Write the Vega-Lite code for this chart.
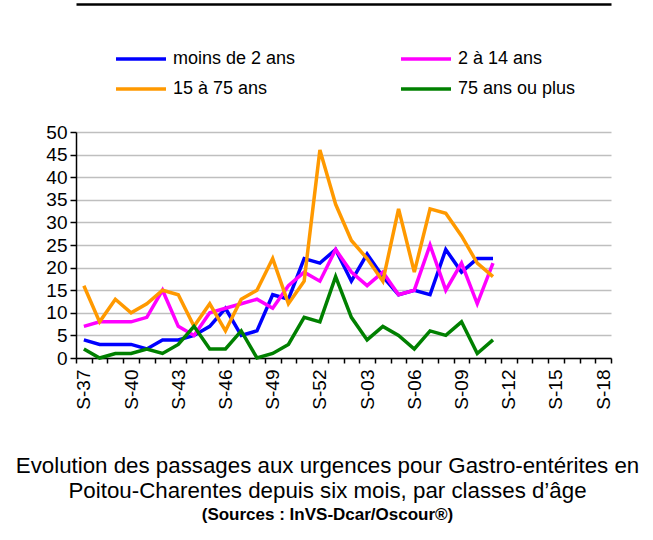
{
  "$schema": "https://vega.github.io/schema/vega-lite/v6.json",
  "width": 535,
  "height": 226,
  "autosize": "none",
  "padding": {"left": 76, "top": 132, "right": 42, "bottom": 182},
  "background": "white",
  "config": {"view": {"stroke": null}, "font": "Liberation Sans"},
  "title": {
    "text": ["Evolution des passages aux urgences pour Gastro-entérites en", "Poitou-Charentes depuis six mois, par classes d’âge"],
    "subtitle": "(Sources : InVS-Dcar/Oscour®)",
    "orient": "bottom",
    "anchor": "middle",
    "dx": -16,
    "offset": 46,
    "font": "Liberation Sans",
    "fontSize": 22.3,
    "fontWeight": "normal",
    "lineHeight": 25,
    "color": "black",
    "subtitleFont": "Liberation Sans",
    "subtitleFontSize": 17,
    "subtitleFontWeight": "bold",
    "subtitleColor": "black",
    "subtitlePadding": 5
  },
  "data": {
    "values": [
      {"week": "S-37", "group": "moins de 2 ans", "value": 4},
      {"week": "S-38", "group": "moins de 2 ans", "value": 3},
      {"week": "S-39", "group": "moins de 2 ans", "value": 3},
      {"week": "S-40", "group": "moins de 2 ans", "value": 3},
      {"week": "S-41", "group": "moins de 2 ans", "value": 2},
      {"week": "S-42", "group": "moins de 2 ans", "value": 4},
      {"week": "S-43", "group": "moins de 2 ans", "value": 4},
      {"week": "S-44", "group": "moins de 2 ans", "value": 5},
      {"week": "S-45", "group": "moins de 2 ans", "value": 7},
      {"week": "S-46", "group": "moins de 2 ans", "value": 11},
      {"week": "S-47", "group": "moins de 2 ans", "value": 5},
      {"week": "S-48", "group": "moins de 2 ans", "value": 6},
      {"week": "S-49", "group": "moins de 2 ans", "value": 14},
      {"week": "S-50", "group": "moins de 2 ans", "value": 13},
      {"week": "S-51", "group": "moins de 2 ans", "value": 22},
      {"week": "S-52", "group": "moins de 2 ans", "value": 21},
      {"week": "S-01", "group": "moins de 2 ans", "value": 24},
      {"week": "S-02", "group": "moins de 2 ans", "value": 17},
      {"week": "S-03", "group": "moins de 2 ans", "value": 23},
      {"week": "S-04", "group": "moins de 2 ans", "value": 18},
      {"week": "S-05", "group": "moins de 2 ans", "value": 14},
      {"week": "S-06", "group": "moins de 2 ans", "value": 15},
      {"week": "S-07", "group": "moins de 2 ans", "value": 14},
      {"week": "S-08", "group": "moins de 2 ans", "value": 24},
      {"week": "S-09", "group": "moins de 2 ans", "value": 19},
      {"week": "S-10", "group": "moins de 2 ans", "value": 22},
      {"week": "S-11", "group": "moins de 2 ans", "value": 22},
      {"week": "S-37", "group": "2 à 14 ans", "value": 7},
      {"week": "S-38", "group": "2 à 14 ans", "value": 8},
      {"week": "S-39", "group": "2 à 14 ans", "value": 8},
      {"week": "S-40", "group": "2 à 14 ans", "value": 8},
      {"week": "S-41", "group": "2 à 14 ans", "value": 9},
      {"week": "S-42", "group": "2 à 14 ans", "value": 15},
      {"week": "S-43", "group": "2 à 14 ans", "value": 7},
      {"week": "S-44", "group": "2 à 14 ans", "value": 5},
      {"week": "S-45", "group": "2 à 14 ans", "value": 10},
      {"week": "S-46", "group": "2 à 14 ans", "value": 11},
      {"week": "S-47", "group": "2 à 14 ans", "value": 12},
      {"week": "S-48", "group": "2 à 14 ans", "value": 13},
      {"week": "S-49", "group": "2 à 14 ans", "value": 11},
      {"week": "S-50", "group": "2 à 14 ans", "value": 16},
      {"week": "S-51", "group": "2 à 14 ans", "value": 19},
      {"week": "S-52", "group": "2 à 14 ans", "value": 17},
      {"week": "S-01", "group": "2 à 14 ans", "value": 24},
      {"week": "S-02", "group": "2 à 14 ans", "value": 19},
      {"week": "S-03", "group": "2 à 14 ans", "value": 16},
      {"week": "S-04", "group": "2 à 14 ans", "value": 19},
      {"week": "S-05", "group": "2 à 14 ans", "value": 14},
      {"week": "S-06", "group": "2 à 14 ans", "value": 15},
      {"week": "S-07", "group": "2 à 14 ans", "value": 25},
      {"week": "S-08", "group": "2 à 14 ans", "value": 15},
      {"week": "S-09", "group": "2 à 14 ans", "value": 21},
      {"week": "S-10", "group": "2 à 14 ans", "value": 12},
      {"week": "S-11", "group": "2 à 14 ans", "value": 21},
      {"week": "S-37", "group": "15 à 75 ans", "value": 16},
      {"week": "S-38", "group": "15 à 75 ans", "value": 8},
      {"week": "S-39", "group": "15 à 75 ans", "value": 13},
      {"week": "S-40", "group": "15 à 75 ans", "value": 10},
      {"week": "S-41", "group": "15 à 75 ans", "value": 12},
      {"week": "S-42", "group": "15 à 75 ans", "value": 15},
      {"week": "S-43", "group": "15 à 75 ans", "value": 14},
      {"week": "S-44", "group": "15 à 75 ans", "value": 7},
      {"week": "S-45", "group": "15 à 75 ans", "value": 12},
      {"week": "S-46", "group": "15 à 75 ans", "value": 6},
      {"week": "S-47", "group": "15 à 75 ans", "value": 13},
      {"week": "S-48", "group": "15 à 75 ans", "value": 15},
      {"week": "S-49", "group": "15 à 75 ans", "value": 22},
      {"week": "S-50", "group": "15 à 75 ans", "value": 12},
      {"week": "S-51", "group": "15 à 75 ans", "value": 17},
      {"week": "S-52", "group": "15 à 75 ans", "value": 46},
      {"week": "S-01", "group": "15 à 75 ans", "value": 34},
      {"week": "S-02", "group": "15 à 75 ans", "value": 26},
      {"week": "S-03", "group": "15 à 75 ans", "value": 22},
      {"week": "S-04", "group": "15 à 75 ans", "value": 17},
      {"week": "S-05", "group": "15 à 75 ans", "value": 33},
      {"week": "S-06", "group": "15 à 75 ans", "value": 19},
      {"week": "S-07", "group": "15 à 75 ans", "value": 33},
      {"week": "S-08", "group": "15 à 75 ans", "value": 32},
      {"week": "S-09", "group": "15 à 75 ans", "value": 27},
      {"week": "S-10", "group": "15 à 75 ans", "value": 21},
      {"week": "S-11", "group": "15 à 75 ans", "value": 18},
      {"week": "S-37", "group": "75 ans ou plus", "value": 2},
      {"week": "S-38", "group": "75 ans ou plus", "value": 0},
      {"week": "S-39", "group": "75 ans ou plus", "value": 1},
      {"week": "S-40", "group": "75 ans ou plus", "value": 1},
      {"week": "S-41", "group": "75 ans ou plus", "value": 2},
      {"week": "S-42", "group": "75 ans ou plus", "value": 1},
      {"week": "S-43", "group": "75 ans ou plus", "value": 3},
      {"week": "S-44", "group": "75 ans ou plus", "value": 7},
      {"week": "S-45", "group": "75 ans ou plus", "value": 2},
      {"week": "S-46", "group": "75 ans ou plus", "value": 2},
      {"week": "S-47", "group": "75 ans ou plus", "value": 6},
      {"week": "S-48", "group": "75 ans ou plus", "value": 0},
      {"week": "S-49", "group": "75 ans ou plus", "value": 1},
      {"week": "S-50", "group": "75 ans ou plus", "value": 3},
      {"week": "S-51", "group": "75 ans ou plus", "value": 9},
      {"week": "S-52", "group": "75 ans ou plus", "value": 8},
      {"week": "S-01", "group": "75 ans ou plus", "value": 18},
      {"week": "S-02", "group": "75 ans ou plus", "value": 9},
      {"week": "S-03", "group": "75 ans ou plus", "value": 4},
      {"week": "S-04", "group": "75 ans ou plus", "value": 7},
      {"week": "S-05", "group": "75 ans ou plus", "value": 5},
      {"week": "S-06", "group": "75 ans ou plus", "value": 2},
      {"week": "S-07", "group": "75 ans ou plus", "value": 6},
      {"week": "S-08", "group": "75 ans ou plus", "value": 5},
      {"week": "S-09", "group": "75 ans ou plus", "value": 8},
      {"week": "S-10", "group": "75 ans ou plus", "value": 1},
      {"week": "S-11", "group": "75 ans ou plus", "value": 4}
    ]
  },
  "layer": [
    {
      "mark": {"type": "line", "strokeWidth": 3.5},
      "encoding": {
        "x": {
          "field": "week",
          "type": "ordinal",
          "bandPosition": 0.5,
          "sort": null,
          "scale": {
            "type": "band",
            "paddingInner": 0,
            "paddingOuter": 0,
            "domain": ["S-37","S-38","S-39","S-40","S-41","S-42","S-43","S-44","S-45","S-46","S-47","S-48","S-49","S-50","S-51","S-52","S-01","S-02","S-03","S-04","S-05","S-06","S-07","S-08","S-09","S-10","S-11","S-12","S-13","S-14","S-15","S-16","S-17","S-18"]
          },
          "axis": {
            "title": null,
            "tickBand": "extent",
            "labelAngle": 270,
            "labelExpr": "indexof(['S-37','S-40','S-43','S-46','S-49','S-52','S-03','S-06','S-09','S-12','S-15','S-18'], datum.value) >= 0 ? datum.value : ''",
            "labelOverlap": false,
            "labelFont": "Liberation Sans",
            "labelFontSize": 19,
            "labelColor": "black",
            "labelPadding": 6,
            "tickSize": 5,
            "tickColor": "black",
            "tickWidth": 1.5,
            "domainColor": "black",
            "domainWidth": 1.5,
            "grid": false
          }
        },
        "y": {
          "field": "value",
          "type": "quantitative",
          "scale": {"domain": [0, 50], "nice": false},
          "axis": {
            "title": null,
            "values": [0, 5, 10, 15, 20, 25, 30, 35, 40, 45, 50],
            "labelFont": "Liberation Sans",
            "labelFontSize": 19,
            "labelColor": "black",
            "labelPadding": 3,
            "tickSize": 6,
            "tickColor": "black",
            "tickWidth": 1.5,
            "domainColor": "black",
            "domainWidth": 1.5,
            "grid": true,
            "gridColor": "#BFBFBF",
            "gridWidth": 1.5
          }
        },
        "color": {
          "field": "group",
          "type": "nominal",
          "scale": {
            "domain": ["moins de 2 ans", "15 à 75 ans", "2 à 14 ans", "75 ans ou plus"],
            "range": ["#0000FF", "#FF9900", "#FF00FF", "#008000"]
          },
          "legend": {
            "title": null,
            "orient": "none",
            "legendX": 53,
            "legendY": -85,
            "columns": 2,
            "columnPadding": 98,
            "rowPadding": 9,
            "symbolType": "M-2.5,0H2.5",
            "symbolSize": 400,
            "symbolStrokeWidth": 3.5,
            "labelFont": "Liberation Sans",
            "labelFontSize": 18,
            "labelColor": "black",
            "labelOffset": 20,
            "labelLimit": 300
          }
        }
      }
    },
    {
      "mark": {"type": "point", "opacity": 0},
      "encoding": {
        "x": {
          "field": "week",
          "type": "ordinal",
          "sort": null,
          "scale": {
            "type": "band",
            "paddingInner": 0,
            "paddingOuter": 0,
            "domain": ["S-37","S-38","S-39","S-40","S-41","S-42","S-43","S-44","S-45","S-46","S-47","S-48","S-49","S-50","S-51","S-52","S-01","S-02","S-03","S-04","S-05","S-06","S-07","S-08","S-09","S-10","S-11","S-12","S-13","S-14","S-15","S-16","S-17","S-18"]
          },
          "axis": {
            "orient": "top",
            "offset": 128,
            "title": null,
            "labels": false,
            "ticks": false,
            "grid": false,
            "domainColor": "black",
            "domainWidth": 2.5
          }
        }
      }
    }
  ],
  "resolve": {"axis": {"x": "independent"}}
}
